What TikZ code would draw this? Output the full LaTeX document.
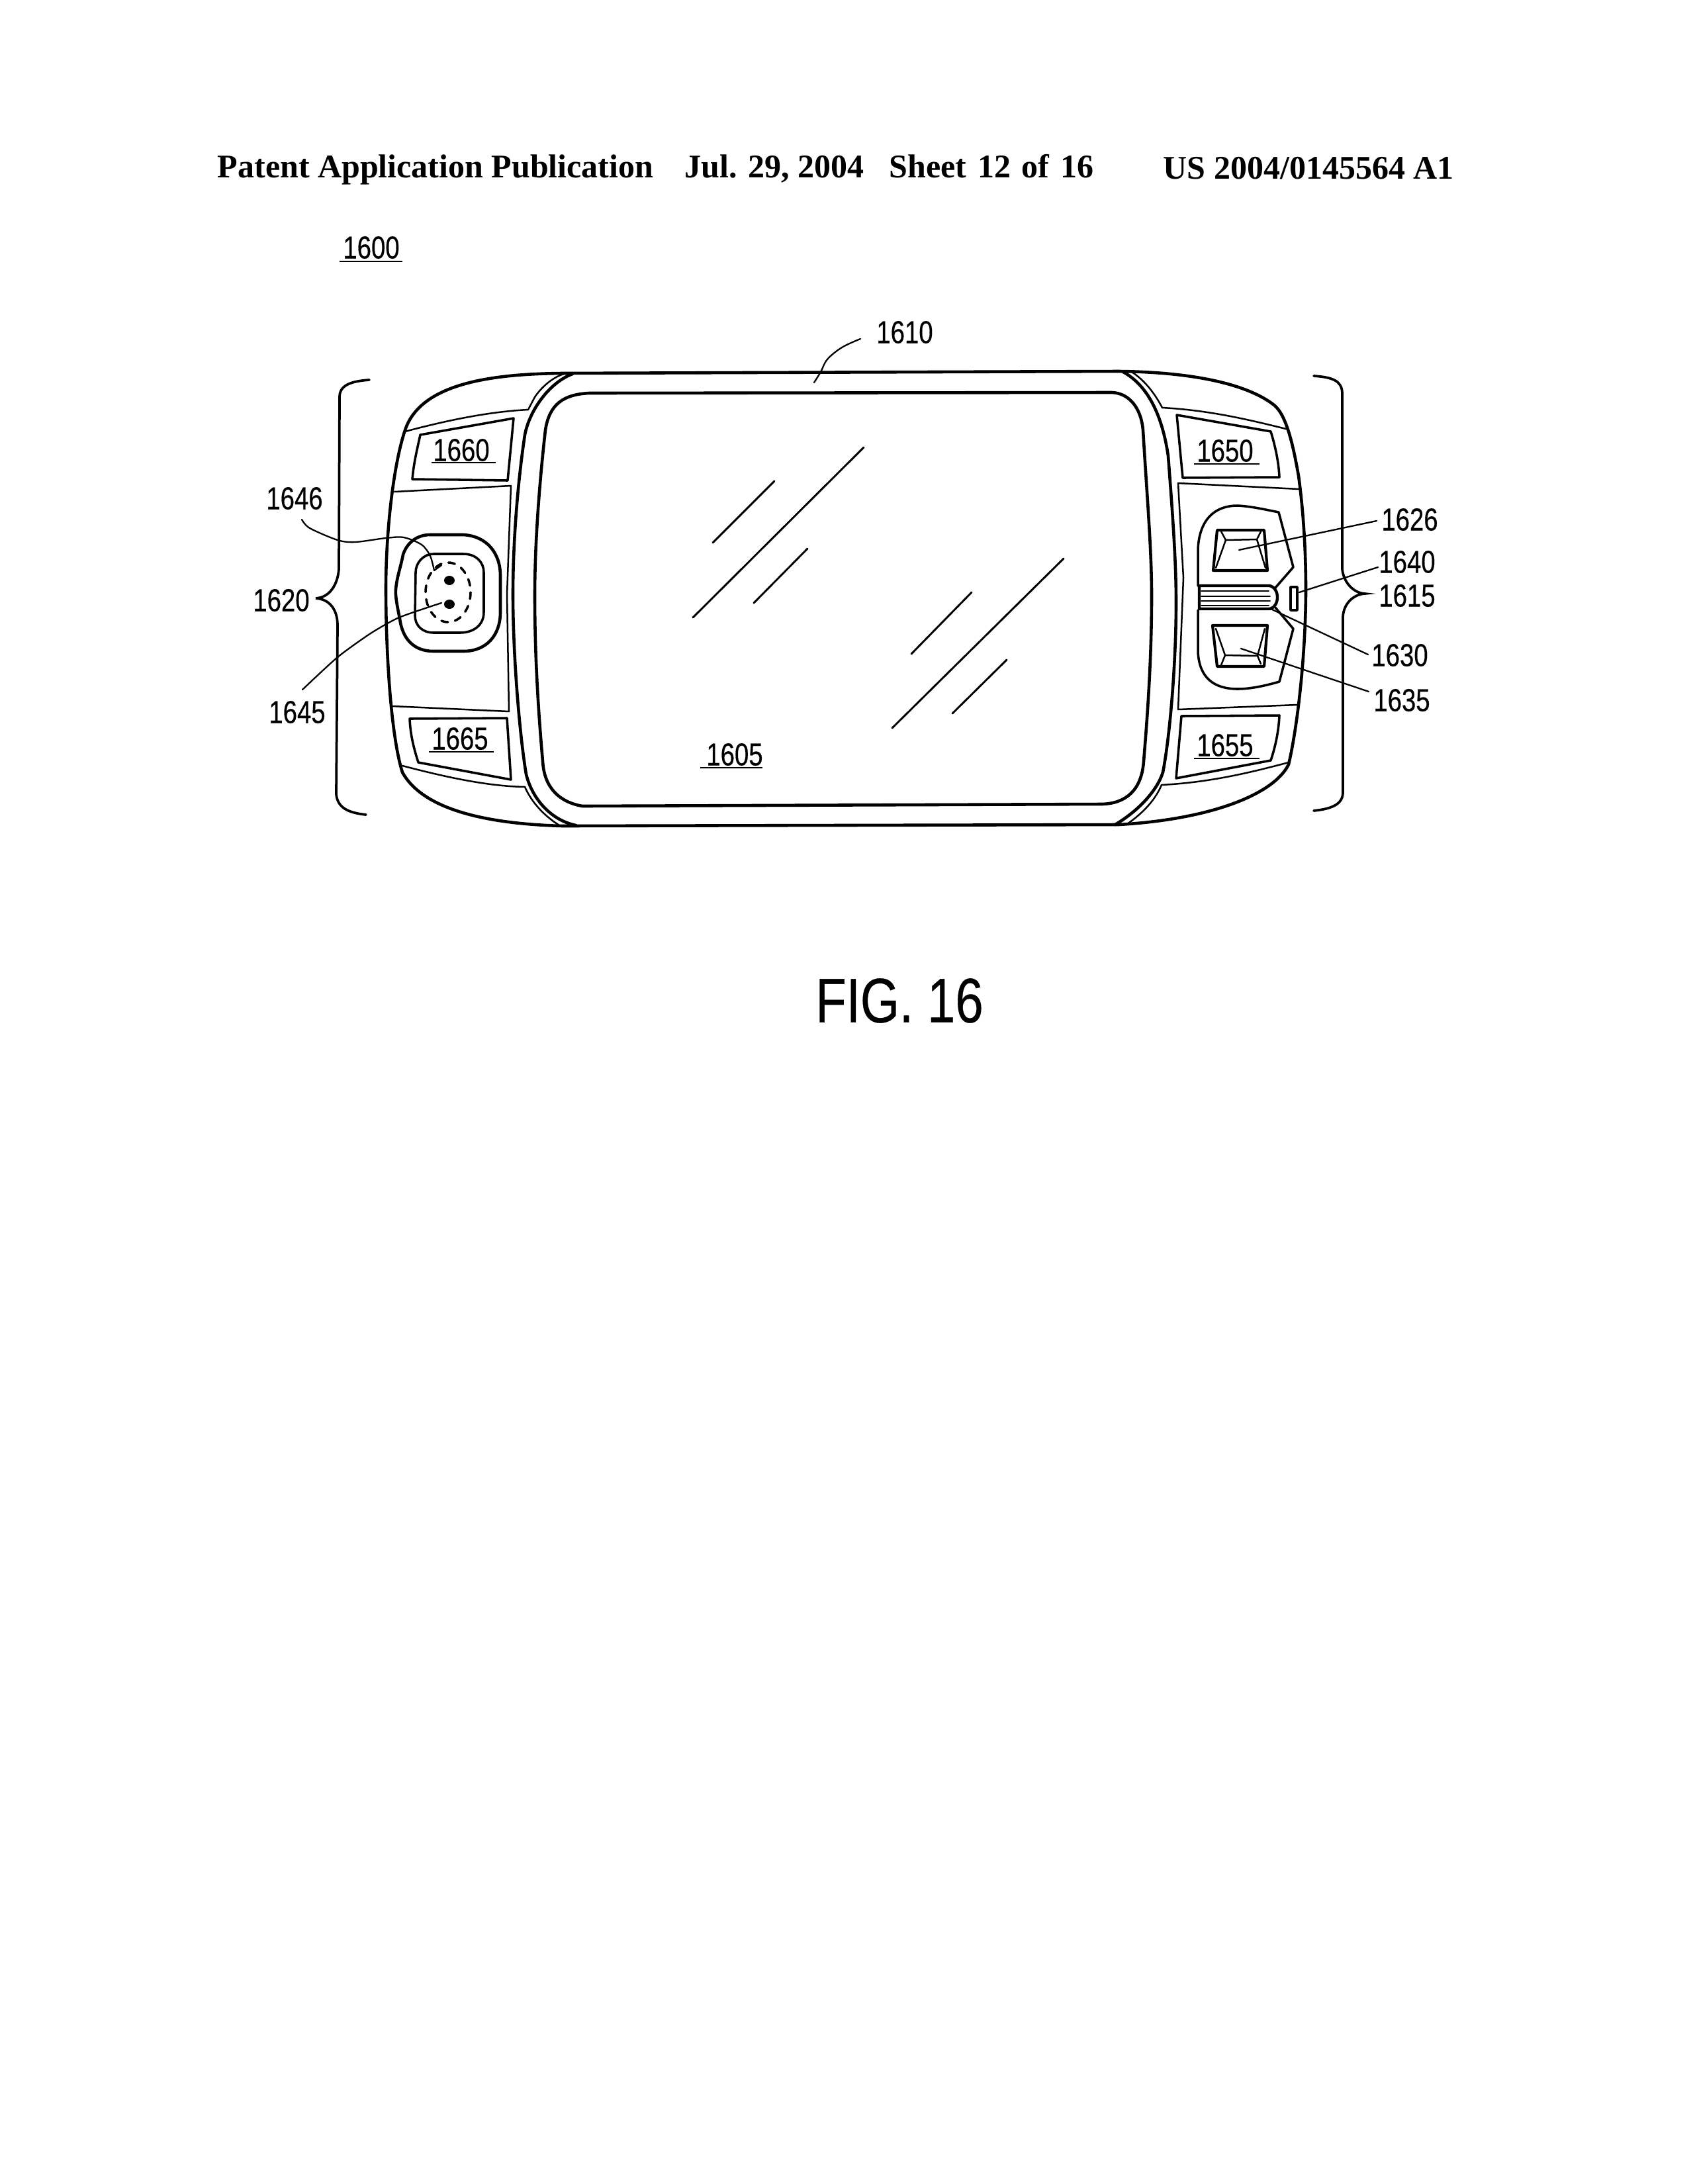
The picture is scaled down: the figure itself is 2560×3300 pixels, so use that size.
\documentclass[tikz,border=0pt]{standalone}
\usepackage{fontspec}
\setmainfont{Liberation Serif}
\newfontfamily\labfont[FakeStretch=0.8,FakeBold=0.4]{Liberation Sans}
\tikzset{
  heavy/.style={line width=1.1pt,line join=round,line cap=round},
  medium/.style={line width=0.85pt,line join=round,line cap=round},
  thin line/.style={line width=0.6pt,line join=round,line cap=round},
  leader/.style={line width=0.55pt,line join=round,line cap=round},
  hair/.style={line width=0.45pt,line cap=round},
  glass/.style={line width=0.7pt,line cap=round},
  lab/.style={inner sep=0pt,font=\labfont\fontsize{11.5}{13}\selectfont},
  headtext/.style={inner sep=0pt,anchor=base west,font=\bfseries\fontsize{12}{14}\selectfont},
  uline/.style={line width=0.55pt}
}
\begin{document}
\begin{tikzpicture}[x=0.24pt,y=-0.24pt]
\useasboundingbox (0,0) rectangle (2560,3300);
\fill[white] (0,0) rectangle (2560,3300);

% header
\node[headtext] (hA) at (328,268) {Patent Application Publication};
\node[headtext] (hB) at (1034,268) {Jul. 29, 2004};
\node[headtext] (hC) at (1343,268) {\spaceskip=4pt Sheet 12 of 16};
\node[headtext] (hD) at (1757,270) {US 2004/0145564 A1};

% body outline
\draw[heavy] (850,564) -- (1690,561)
  .. controls (1790,562) and (1880,577) .. (1925,612)
  .. controls (1945,628) and (1955,680) .. (1962,719)
  .. controls (1969,770) and (1973,830) .. (1973,890)
  .. controls (1973,980) and (1962,1090) .. (1947,1155)
  .. controls (1925,1200) and (1830,1238) .. (1690,1246)
  -- (850,1248)
  .. controls (740,1245) and (640,1225) .. (608,1167)
  .. controls (590,1110) and (583,980) .. (583,890)
  .. controls (583,800) and (595,700) .. (612,650)
  .. controls (635,580) and (740,565) .. (850,564) -- cycle;

% bezel curves
\draw[heavy] (865,565) .. controls (830,578) and (800,620) .. (793,657)
  .. controls (782,730) and (775,820) .. (775,898)
  .. controls (775,990) and (785,1110) .. (795,1170)
  .. controls (805,1210) and (835,1240) .. (870,1247);
\draw[heavy] (1697,562) .. controls (1730,580) and (1755,620) .. (1765,689)
  .. controls (1772,780) and (1777,850) .. (1777,910)
  .. controls (1777,1000) and (1768,1110) .. (1757,1167)
  .. controls (1748,1195) and (1720,1225) .. (1685,1246);

% thin seams
\draw[thin line] (612,652) .. controls (680,634) and (740,622) .. (798,619)
  -- (808,600) .. controls (818,585) and (835,570) .. (852,565);
\draw[thin line] (608,1157) .. controls (680,1176) and (740,1188) .. (793,1189)
  .. controls (800,1205) and (815,1228) .. (845,1247);
\draw[thin line] (1710,562) .. controls (1730,575) and (1745,595) .. (1756,616)
  .. controls (1830,620) and (1890,635) .. (1947,649);
\draw[thin line] (1703,1245) .. controls (1725,1230) and (1745,1210) .. (1755,1186)
  .. controls (1830,1182) and (1890,1167) .. (1947,1152);

% screen
\draw[heavy] (890,594) -- (1680,593)
  .. controls (1705,594) and (1724,615) .. (1727,650)
  .. controls (1733,750) and (1740,830) .. (1740,900)
  .. controls (1740,1000) and (1733,1090) .. (1728,1150)
  .. controls (1725,1195) and (1700,1214) .. (1665,1215)
  -- (880,1218)
  .. controls (845,1212) and (822,1190) .. (820,1150)
  .. controls (812,1060) and (808,980) .. (808,900)
  .. controls (808,820) and (815,730) .. (824,650)
  .. controls (830,610) and (852,596) .. (890,594) -- cycle;

% glass reflections
\draw[glass] (1047,933) -- (1305,676);
\draw[glass] (1077,820) -- (1170,727);
\draw[glass] (1139,911) -- (1220,829);
\draw[glass] (1377,988) -- (1468,895);
\draw[glass] (1348,1100) -- (1607,844);
\draw[glass] (1439,1078) -- (1521,997);

% left side buttons
\draw[medium] (623,724) .. controls (625,700) and (630,680) .. (635,657) -- (776,632) -- (767,726) -- cycle;
\draw[medium] (632,1152) .. controls (625,1130) and (620,1110) .. (619,1086) -- (766,1085) -- (772,1178) -- cycle;
\draw[thin line] (596,743) -- (772,734) -- (766,898) -- (769,1075) -- (593,1067);

% left pad
\draw[heavy] (650,808) -- (700,808) .. controls (735,810) and (756,835) .. (756,870)
  -- (756,925) .. controls (756,960) and (735,984) .. (700,984)
  -- (655,984) .. controls (625,984) and (608,965) .. (604,935)
  .. controls (600,915) and (597,900) .. (598,890)
  .. controls (600,870) and (606,855) .. (609,838)
  .. controls (615,820) and (630,808) .. (650,808) -- cycle;
\draw[medium] (655,837) -- (700,837) .. controls (720,837) and (731,850) .. (731,865)
  -- (731,925) .. controls (731,945) and (715,956) .. (695,956)
  -- (655,956) .. controls (638,956) and (627,945) .. (627,930)
  -- (628,865) .. controls (628,850) and (640,837) .. (655,837) -- cycle;
\draw[medium,dash pattern=on 2.4pt off 2.6pt] (677,895) ellipse [x radius=34,y radius=45];
\fill (679,877) ellipse [x radius=8,y radius=7];
\fill (679,913) ellipse [x radius=8,y radius=7];

% right side buttons
\draw[medium] (1920,652) .. controls (1927,675) and (1932,698) .. (1933,721) -- (1787,722) -- (1778,627) -- cycle;
\draw[medium] (1933,1081) .. controls (1932,1105) and (1927,1128) .. (1920,1149) -- (1777,1176) -- (1785,1082) -- cycle;
\draw[thin line] (1963,739) -- (1780,730) -- (1788,873) -- (1780,1072) -- (1960,1065);

% rocker outline
\draw[medium] (1810,885) -- (1810,830) .. controls (1812,785) and (1835,764) .. (1870,764)
  .. controls (1890,765) and (1912,770) .. (1932,774) -- (1954,857) -- (1927,888);
\draw[medium] (1810,922) -- (1810,985) .. controls (1812,1025) and (1835,1041) .. (1870,1041)
  .. controls (1890,1041) and (1912,1036) .. (1933,1030) -- (1954,950) -- (1927,918);

% upper button
\draw[medium,line width=1pt] (1839,801) -- (1910,801) -- (1915,862) -- (1833,862) -- cycle;
\draw[thin line] (1845,803) -- (1852,816) -- (1899,815) -- (1905,803);
\draw[thin line] (1852,816) -- (1837,858);
\draw[thin line] (1899,815) -- (1912,858);
% lower button
\draw[medium,line width=1pt] (1832,945) -- (1915,945) -- (1910,1007) -- (1839,1007) -- cycle;
\draw[thin line] (1837,950) -- (1851,990) -- (1900,991) -- (1911,950);
\draw[thin line] (1851,990) -- (1845,1005);
\draw[thin line] (1900,991) -- (1905,1003);

% scroll bar
\draw[line width=1.05pt,line join=round] (1812,885) -- (1918,885) .. controls (1934,888) and (1934,917) .. (1918,920) -- (1812,920) -- cycle;
\draw[hair] (1815,893) -- (1917,893);
\draw[hair] (1815,901) -- (1919,901);
\draw[hair] (1815,908) -- (1919,908);
\draw[hair] (1815,915) -- (1917,915);

% LED
\draw[medium] (1950,887) rectangle (1960,922);

% braces
\draw[line width=0.9pt,line cap=round] (558,574) .. controls (530,576) and (513,582) .. (513,600)
  -- (512,860) .. controls (510,885) and (497,903) .. (477,904)
  .. controls (497,905) and (510,920) .. (510,945)
  -- (508,1200) .. controls (510,1220) and (525,1228) .. (553,1231);
\draw[line width=0.9pt,line cap=round] (1985,568) .. controls (2013,570) and (2028,575) .. (2028,595)
  -- (2028,860) .. controls (2030,880) and (2045,896) .. (2062,897)
  .. controls (2045,898) and (2030,912) .. (2029,932)
  -- (2029,1197) .. controls (2029,1215) and (2013,1222) .. (1985,1225);

% labels
\node[lab] (n1600) at (561,374) {1600};
\draw[uline] (513,395) -- (608,395);
\node[lab] (n1610) at (1367,502) {1610};
\node[lab] (n1646) at (445,753) {1646};
\node[lab] (n1620) at (425,907) {1620};
\node[lab] (n1645) at (449,1076) {1645};
\node[lab] (n1626) at (2130,785) {1626};
\node[lab] (n1640) at (2126,849) {1640};
\node[lab] (n1615) at (2126,900) {1615};
\node[lab] (n1630) at (2115,990) {1630};
\node[lab] (n1635) at (2118,1058) {1635};
\node[lab] (n1660) at (697,680) {1660};
\draw[uline] (652,699) -- (749,699);
\node[lab] (n1665) at (695,1116) {1665};
\draw[uline] (648,1136) -- (746,1136);
\node[lab] (n1650) at (1851,681) {1650};
\draw[uline] (1804,701) -- (1903,701);
\node[lab] (n1655) at (1851,1126) {1655};
\draw[uline] (1804,1146) -- (1903,1146);
\node[lab] (n1605) at (1110,1140) {1605};
\draw[uline] (1058,1160) -- (1152,1160);
\node[inner sep=0pt,font=\labfont\fontsize{22.8}{26}\selectfont] (nfig) at (1359,1512) {FIG. 16};

% leaders
\coordinate (e1610) at (1230,578);
\coordinate (s1610) at (1300,512);
\draw[leader] plot[smooth,tension=0.6] coordinates {(s1610) (1272,525) (1250,543) (1240,562) (e1610)};
\draw[leader] plot[smooth,tension=0.5] coordinates {(456,785) (468,798) (510,816) (537,819) (583,813) (610,812) (637,823) (650,840) (656,862)};
\draw[leader] (656,862) -- (667,854);
\draw[leader] plot[smooth,tension=0.4] coordinates {(457,1042) (510,993) (560,957) (603,933) (667,911)};
\draw[leader] (1872,831) -- (2080,787);
\draw[leader] (1963,895) -- (2082,857);
\draw[leader] (1920,920) -- (2067,989);
\draw[leader] (1875,980) -- (2068,1045);
\end{tikzpicture}
\end{document}
